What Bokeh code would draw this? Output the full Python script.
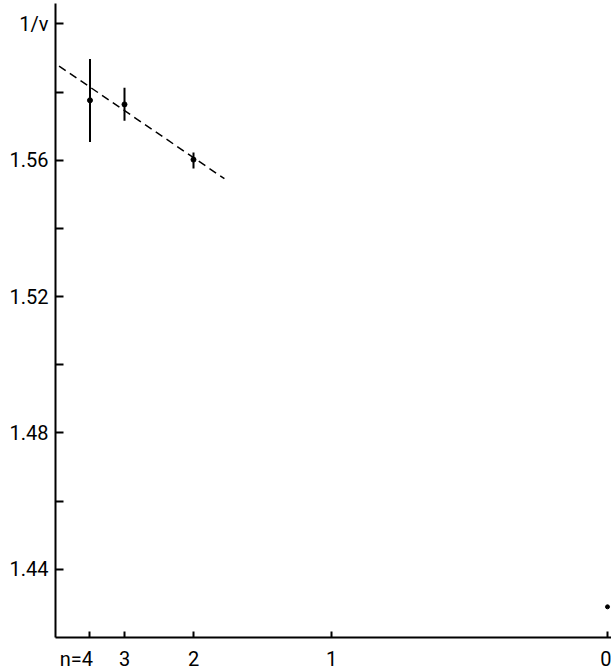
from bokeh.plotting import figure
from bokeh.models import FixedTicker, Range1d
from bokeh.embed import file_html
from bokeh.resources import INLINE

# ---- data ----
n_levels = [4, 3, 2]
inv_nu = [1.5776, 1.5764, 1.5602]
inv_nu_low = [1.5654, 1.5716, 1.5576]
inv_nu_high = [1.5897, 1.5813, 1.5623]

# extrapolation (dashed) line, in axis units x = 2^-n
fit_x = [-0.013, 0.306]
fit_y = [1.5898, 1.5546]

# isolated point at n = 0
n_zero = [0]
inv_nu_zero = [1.429]

# axis ticks
x_tick_n = [4, 3, 2, 1, 0]
x_tick_labels = ["n=4\u2007\u2007\u00a0", "3", "2", "1", "0"]
y_ticks = [1.44, 1.46, 1.48, 1.50, 1.52, 1.54, 1.56, 1.58, 1.60]
y_tick_labels = ["1.44", "", "1.48", "", "1.52", "", "1.56", "", "1/ν"]

# axis variable is 2^-n
def xpos(ns):
    return [0.5 ** k for k in ns]

FONT = "Roboto"

p = figure(width=611, height=669, output_backend="svg", toolbar_location=None,
           x_range=Range1d(0, 1.00725), y_range=Range1d(1.42, 1.606),
           min_border_left=55, min_border_right=0, min_border_top=3, min_border_bottom=32)
p.frame_width = 556
p.frame_height = 634
p.outline_line_color = None
p.grid.visible = False
p.background_fill_color = "white"
p.border_fill_color = "white"

xt = xpos(x_tick_n)
p.xaxis.ticker = FixedTicker(ticks=xt)
p.xaxis.major_label_overrides = {t: l for t, l in zip(xt, x_tick_labels)}
p.yaxis.ticker = FixedTicker(ticks=y_ticks)
p.yaxis.major_label_overrides = {t: l for t, l in zip(y_ticks, y_tick_labels)}

for ax in (p.xaxis, p.yaxis):
    ax.axis_line_width = 2
    ax.axis_line_color = "black"
    ax.major_tick_line_width = 2
    ax.major_tick_line_color = "black"
    ax.major_tick_in = 8
    ax.major_tick_out = 0
    ax.minor_tick_line_color = None
    ax.major_label_text_font = FONT
    ax.major_label_text_font_size = "20px"
    ax.major_label_text_color = "black"
p.xaxis.major_tick_in = 6
p.xaxis.major_label_standoff = 9
p.yaxis.major_label_standoff = 7

xs = xpos(n_levels)
p.line(fit_x, fit_y, line_color="black", line_width=1.5, line_dash="8 5")
p.segment(x0=xs, y0=inv_nu_low, x1=xs, y1=inv_nu_high, line_color="black", line_width=2)
p.scatter(xs, inv_nu, size=5, color="black")
p.scatter(xpos(n_zero), inv_nu_zero, size=4, color="black")

open("out.html", "w").write(file_html(p, INLINE))
